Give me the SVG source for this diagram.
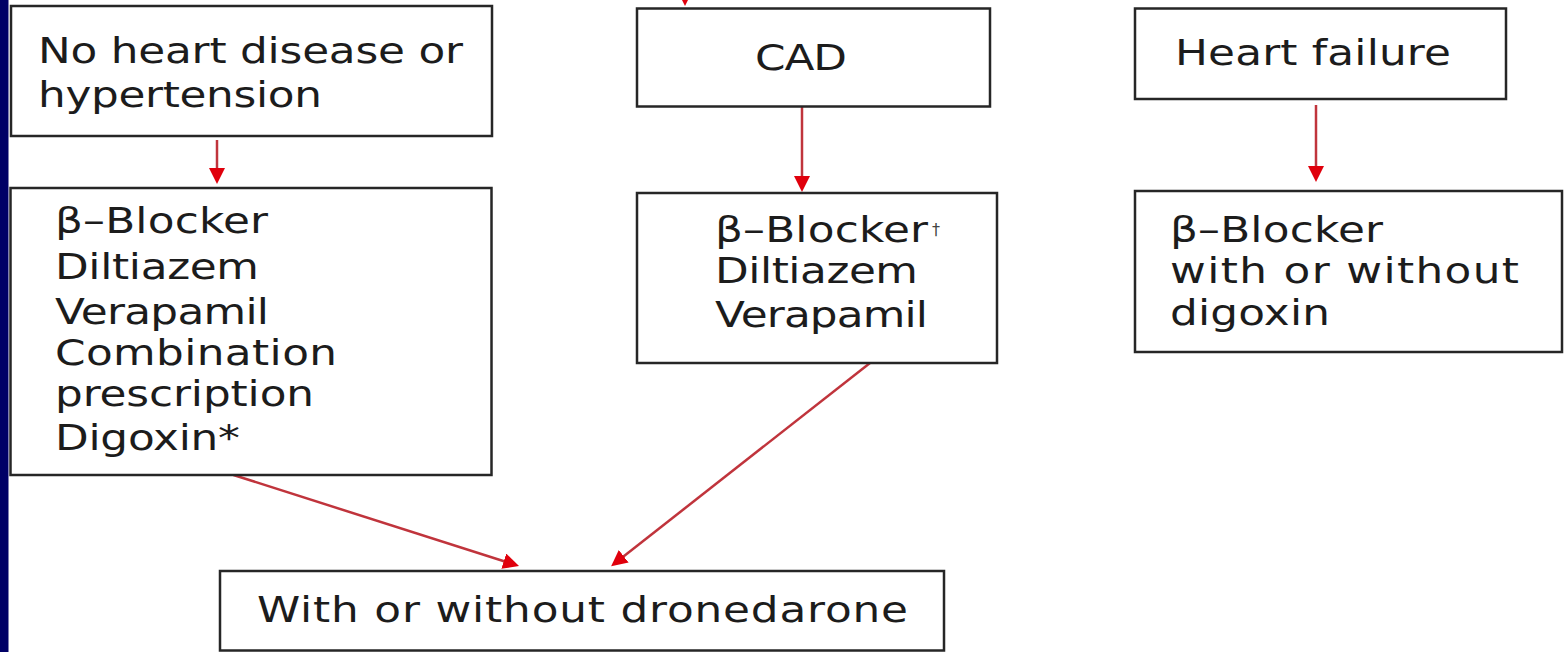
<svg xmlns="http://www.w3.org/2000/svg" width="1568" height="652" viewBox="0 0 1568 652">
  <style>
    .box { fill: #ffffff; stroke: #262626; stroke-width: 2.5; }
    .lbl { font-family: "DejaVu Sans", "Liberation Sans", sans-serif; font-size: 35px; fill: #1c1c1c; }
    .sup { font-family: "DejaVu Sans", "Liberation Sans", sans-serif; font-size: 16px; fill: #444444; }
    .link { fill: none; stroke: #c0343c; stroke-width: 2.5; marker-end: url(#head); }
  </style>
  <defs>
    <marker id="head" markerUnits="userSpaceOnUse" markerWidth="18" markerHeight="18" refX="6" refY="8" orient="auto">
      <path d="M0,0 L16,8 L0,16 z" fill="#e0000c"/>
    </marker>
  </defs>

  <rect x="0" y="0" width="1568" height="652" fill="#ffffff"/>
  <!-- navy strip down the left edge -->
  <rect x="0" y="0" width="8.5" height="652" fill="#000066"/>

  <g id="connectors">
    <line class="link" x1="685" y1="-30" x2="685" y2="-4"/>
    <line class="link" x1="217" y1="140" x2="217" y2="174"/>
    <line class="link" x1="802" y1="107" x2="802" y2="182"/>
    <line class="link" x1="1316" y1="105" x2="1316" y2="172"/>
    <line class="link" x1="233.5" y1="475" x2="509.5" y2="563"/>
    <line class="link" x1="870" y1="363" x2="619" y2="560"/>
  </g>

  <g id="no-heart-disease">
    <rect class="box" x="11" y="6" width="481" height="130"/>
    <g transform="translate(38 0) scale(1.25 1)">
      <text class="lbl" x="0" y="63" textLength="340" lengthAdjust="spacing">No heart disease or</text>
      <text class="lbl" x="0" y="107" textLength="227.2" lengthAdjust="spacing">hypertension</text>
    </g>
  </g>

  <g id="rate-control-general">
    <rect class="box" x="10.5" y="188" width="481" height="287"/>
    <g transform="translate(55 0) scale(1.25 1)">
      <text class="lbl" x="0" y="233" textLength="170.4" lengthAdjust="spacing">β–Blocker</text>
      <text class="lbl" x="0" y="279" textLength="163.2" lengthAdjust="spacing">Diltiazem</text>
      <text class="lbl" x="0" y="324" textLength="171.2" lengthAdjust="spacing">Verapamil</text>
      <text class="lbl" x="0" y="365" textLength="225.6" lengthAdjust="spacing">Combination</text>
      <text class="lbl" x="0" y="406" textLength="207.2" lengthAdjust="spacing">prescription</text>
      <text class="lbl" x="0" y="450" textLength="148" lengthAdjust="spacing">Digoxin*</text>
    </g>
  </g>

  <g id="cad">
    <rect class="box" x="637" y="8.5" width="353" height="98"/>
    <g transform="translate(755 0) scale(1.25 1)">
      <text class="lbl" x="0" y="70" textLength="73.6" lengthAdjust="spacing">CAD</text>
    </g>
  </g>

  <g id="rate-control-cad">
    <rect class="box" x="637" y="193" width="360" height="170"/>
    <g transform="translate(715 0) scale(1.25 1)">
      <text class="lbl" x="0" y="242" textLength="170.4" lengthAdjust="spacing">β–Blocker</text>
      <text class="lbl" x="0" y="283" textLength="162.4" lengthAdjust="spacing">Diltiazem</text>
      <text class="lbl" x="0" y="327" textLength="170.4" lengthAdjust="spacing">Verapamil</text>
    </g>
    <text class="sup" x="932" y="235">†</text>
  </g>

  <g id="heart-failure">
    <rect class="box" x="1135" y="8.5" width="371" height="90.5"/>
    <g transform="translate(1175 0) scale(1.25 1)">
      <text class="lbl" x="0" y="65" textLength="220.8" lengthAdjust="spacing">Heart failure</text>
    </g>
  </g>

  <g id="rate-control-hf">
    <rect class="box" x="1135" y="191" width="427" height="161"/>
    <g transform="translate(1170 0) scale(1.25 1)">
      <text class="lbl" x="0" y="242" textLength="170.4" lengthAdjust="spacing">β–Blocker</text>
      <text class="lbl" x="0" y="283" textLength="279.2" lengthAdjust="spacing">with or without</text>
      <text class="lbl" x="0" y="325" textLength="128" lengthAdjust="spacing">digoxin</text>
    </g>
  </g>

  <g id="dronedarone">
    <rect class="box" x="220" y="571" width="724" height="79.5"/>
    <g transform="translate(257 0) scale(1.25 1)">
      <text class="lbl" x="0" y="622" textLength="520.8" lengthAdjust="spacing">With or without dronedarone</text>
    </g>
  </g>
</svg>
